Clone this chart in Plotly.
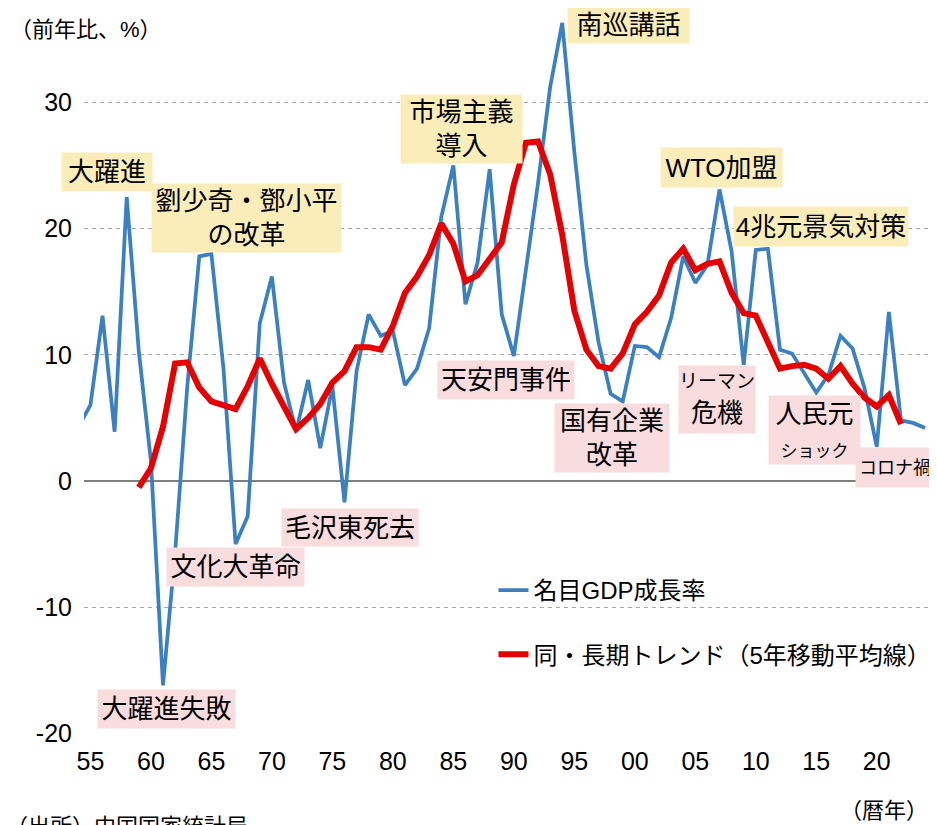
import plotly.graph_objects as go

# ---------------- data ----------------
years = list(range(1954, 2025))
gdp_growth = [
    4.3,
    6.0, 13.1, 3.9, 22.5, 10.3,
    1.6, -16.2, -5.7, 7.4, 17.8,
    18.0, 8.9, -5.0, -2.8, 12.5,
    16.2, 7.8, 3.9, 8.0, 2.6,
    7.5, -1.7, 8.7, 13.2, 11.5,
    11.9, 7.6, 8.9, 12.1, 20.9,
    25.0, 14.0, 17.3, 24.7, 13.2,
    9.9, 16.6, 23.6, 31.2, 36.3,
    26.1, 17.1, 11.0, 6.9, 6.3,
    10.7, 10.6, 9.8, 12.9, 17.8,
    15.7, 17.1, 23.1, 18.2, 9.2,
    18.3, 18.4, 10.4, 10.1, 8.5,
    7.0, 8.4, 11.5, 10.5, 7.3,
    2.7, 13.4, 4.8, 4.6, 4.2,
]

trend_years = list(range(1959, 2023))
trend = [
    -0.5, 1.0, 4.3, 9.3, 9.4,
    7.4, 6.3, 6.0, 5.7, 7.5,
    9.7, 7.7, 6.0, 4.1, 5.0,
    6.1, 7.8, 8.7, 10.6, 10.6,
    10.4, 12.3, 14.9, 16.2, 17.9,
    20.4, 18.8, 15.8, 16.3, 17.6,
    18.9, 23.5, 26.8, 26.9, 24.3,
    19.5, 13.5, 10.4, 9.1, 8.9,
    10.1, 12.4, 13.4, 14.7, 17.3,
    18.4, 16.7, 17.2, 17.4, 14.9,
    13.3, 13.1, 10.9, 8.9, 9.1,
    9.2, 8.9, 8.1, 9.1, 7.7,
    6.6, 5.9, 6.8, 4.5,
]

x_tickvals = [1955, 1960, 1965, 1970, 1975, 1980, 1985, 1990, 1995, 2000, 2005, 2010, 2015, 2020]
x_ticktext = ["55", "60", "65", "70", "75", "80", "85", "90", "95", "00", "05", "10", "15", "20"]
y_tickvals = [-20, -10, 0, 10, 20, 30]
y_ticktext = ["-20", "-10", "0", "10", "20", "30"]

series_names = ["名目GDP成長率", "同・長期トレンド（5年移動平均線）"]

# positive events (yellow) and negative events (pink)
positive_events = ["大躍進", "劉少奇・鄧小平<br>の改革", "市場主義<br>導入", "南巡講話", "WTO加盟", "4兆元景気対策"]
negative_events = ["毛沢東死去", "文化大革命", "大躍進失敗", "天安門事件", "国有企業<br>改革",
                   "<span style='font-size:19px'>リーマン</span><br>危機",
                   "人民元<br><span style='font-size:17px'>ショック</span>",
                   "<span style='font-size:18px'>コロナ禍</span>"]

# ---------------- styles / layout ----------------
BLUE = "#3A80C2"
RED = "#E60000"
YELLOW = "#FAEDBA"
PINK = "#F8DCDE"
FONT = "Liberation Sans, Noto Sans CJK JP, sans-serif"

# label box placement (x year, y value, box width px, box height px)
pos_layout = [
    (1956.37, 24.47, 90, 38),
    (1967.90, 20.82, 189, 68),
    (1985.67, 27.87, 121, 68),
    (1999.47, 36.14, 121, 37),
    (2007.16, 24.82, 121, 39),
    (2015.38, 20.15, 174, 39),
]
neg_layout = [
    (1976.45, -3.68, 136, 37),
    (1966.99, -6.81, 137, 38),
    (1961.29, -18.05, 137, 38),
    (1989.35, 8.00, 136, 38),
    (1998.11, 3.40, 114, 68),
    (2006.79, 6.45, 76, 67),
    (2014.84, 4.04, 91, 68),
    (2021.50, 1.07, 78, 39),
]

fig = go.Figure()
fig.add_trace(go.Scatter(
    x=years, y=gdp_growth, mode="lines", name=series_names[0],
    line=dict(color=BLUE, width=3.75), legendgroup="a",
))
fig.add_trace(go.Scatter(
    x=trend_years, y=trend, mode="lines", name=series_names[1],
    line=dict(color=RED, width=6), legendgroup="b",
))

annotations = []
for text, (x, y, w, h) in zip(positive_events, pos_layout):
    annotations.append(dict(x=x, y=y, xref="x", yref="y", text=text, showarrow=False,
                            bgcolor=YELLOW, width=w, height=h, borderpad=0,
                            align="center", valign="middle",
                            font=dict(size=26, color="#000000", family=FONT)))
for text, (x, y, w, h) in zip(negative_events, neg_layout):
    annotations.append(dict(x=x, y=y, xref="x", yref="y", text=text, showarrow=False,
                            bgcolor=PINK, width=w, height=h, borderpad=0,
                            align="center", valign="middle",
                            font=dict(size=26, color="#000000", family=FONT)))

# axis titles / notes
annotations.append(dict(x=-0.0898, y=0.978, xref="paper", yref="paper", text="（前年比、%）",
                        showarrow=False, xanchor="left", yanchor="middle",
                        font=dict(size=22, color="#000000", family=FONT)))
annotations.append(dict(x=1.0, y=-0.1056, xref="paper", yref="paper", text="（暦年）",
                        showarrow=False, xanchor="right", yanchor="middle",
                        font=dict(size=22, color="#000000", family=FONT)))
annotations.append(dict(x=-0.0946, y=-0.129, xref="paper", yref="paper", text="（出所）中国国家統計局",
                        showarrow=False, xanchor="left", yanchor="middle",
                        font=dict(size=22, color="#000000", family=FONT)))

fig.update_layout(
    width=937, height=825,
    margin=dict(l=76, r=15, t=6, b=99, autoexpand=False),
    paper_bgcolor="white", plot_bgcolor="white",
    font=dict(family=FONT, color="#000000"),
    showlegend=True,
    legend=dict(x=0.484, xanchor="left", y=0.2306, yanchor="top",
                bgcolor="rgba(0,0,0,0)", font=dict(size=24, family=FONT, color="#000000"),
                tracegroupgap=30),
    annotations=annotations,
    xaxis=dict(range=[1954.47, 2024.4], tickvals=x_tickvals, ticktext=x_ticktext,
               showgrid=False, zeroline=False, showline=False, ticks="", automargin=False,
               tickfont=dict(size=25, family=FONT, color="#000000"), ticklabelstandoff=10),
    yaxis=dict(range=[-20.05, 37], tickvals=y_tickvals, ticktext=y_ticktext,
               showgrid=True, gridcolor="#A6A6A6", griddash="4px,4px", gridwidth=1.3,
               zeroline=True, zerolinecolor="#7F7F7F", zerolinewidth=2,
               showline=False, ticks="", automargin=False,
               tickfont=dict(size=25, family=FONT, color="#000000"), ticklabelstandoff=11),
)

fig.write_html("out.html")
